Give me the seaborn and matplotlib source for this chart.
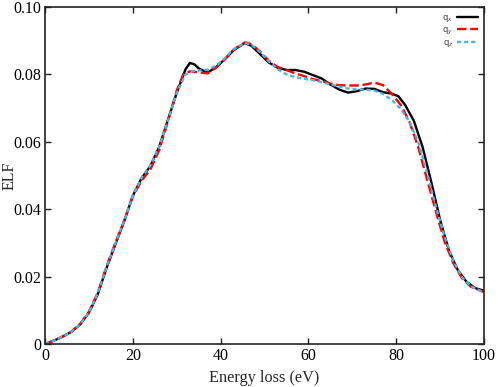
import pandas as pd
import matplotlib.pyplot as plt
import matplotlib.ticker as mticker
import seaborn as sns

# Energy loss function, one list per polarisation
QX_E = [0, 2, 4, 6, 8, 10, 12, 14, 16, 18, 20, 22, 24, 26, 28, 30, 32, 33, 34, 35,
        37, 39, 41, 43, 45.5, 47, 49, 51, 53, 55, 57, 59, 61, 63, 65, 67, 69, 71, 73,
        75, 77, 79, 80.5, 82, 84, 86, 88, 90, 92, 94, 96, 98, 100]
QX_ELF = [0, 0.0010, 0.0022, 0.0036, 0.0058, 0.0093, 0.0147, 0.0225, 0.0295, 0.0363,
          0.0440, 0.0492, 0.0528, 0.0585, 0.0665, 0.0745, 0.0815, 0.0834, 0.0830, 0.0818,
          0.0805, 0.0822, 0.0845, 0.0872, 0.0893, 0.0885, 0.0860, 0.0835, 0.0820, 0.0813,
          0.0813, 0.0808, 0.0798, 0.0788, 0.0770, 0.0755, 0.0746, 0.0750, 0.0758, 0.0757,
          0.0747, 0.0743, 0.0735, 0.0710, 0.0663, 0.0585, 0.0480, 0.0368, 0.0278, 0.0220,
          0.0185, 0.0166, 0.0158]

QY_E = [0, 2, 4, 6, 8, 10, 12, 14, 16, 18, 20, 22, 24, 26, 28, 30, 31.5, 33, 35, 37,
        39, 41, 43, 45.5, 47, 49, 51, 53, 55, 57, 59, 61, 63, 65, 67, 69, 71, 73, 75,
        77, 79, 81, 83, 85, 87, 89, 91, 93, 95, 97, 100]
QY_ELF = [0, 0.0010, 0.0022, 0.0037, 0.0060, 0.0096, 0.0152, 0.0230, 0.0300, 0.0365,
          0.0438, 0.0485, 0.0518, 0.0575, 0.0660, 0.0752, 0.0800, 0.0809, 0.0806, 0.0803,
          0.0820, 0.0846, 0.0874, 0.0895, 0.0890, 0.0868, 0.0840, 0.0822, 0.0813, 0.0803,
          0.0795, 0.0786, 0.0780, 0.0773, 0.0768, 0.0767, 0.0767, 0.0770, 0.0776, 0.0768,
          0.0742, 0.0710, 0.0660, 0.0585, 0.0490, 0.0395, 0.0305, 0.0240, 0.0195, 0.0170,
          0.0154]

QZ_E = [0, 2, 4, 6, 8, 10, 12, 14, 16, 18, 20, 22, 24, 26, 28, 30, 32, 34, 36, 37,
        39, 41, 43, 45.5, 47, 49, 51, 53, 55, 57, 59, 61, 63, 65, 67, 69, 71, 73, 75,
        77, 79, 81, 83, 85, 87, 89, 91, 93, 95, 97, 100]
QZ_ELF = [0, 0.0010, 0.0022, 0.0036, 0.0059, 0.0094, 0.0150, 0.0228, 0.0298, 0.0364,
          0.0440, 0.0494, 0.0530, 0.0585, 0.0662, 0.0745, 0.0800, 0.0811, 0.0812, 0.0814,
          0.0826, 0.0848, 0.0875, 0.0893, 0.0888, 0.0866, 0.0838, 0.0815, 0.0800, 0.0792,
          0.0787, 0.0783, 0.0777, 0.0770, 0.0764, 0.0758, 0.0755, 0.0755, 0.0752, 0.0742,
          0.0724, 0.0698, 0.0660, 0.0600, 0.0510, 0.0410, 0.0320, 0.0248, 0.0198, 0.0172,
          0.0152]

LABELS = ["q$_x$", "q$_y$", "q$_z$"]
PALETTE = {LABELS[0]: "#000000", LABELS[1]: "#FF0000", LABELS[2]: "#4DB3E6"}
DASHES = {LABELS[0]: "", LABELS[1]: (4, 1.6), LABELS[2]: (1.8, 1.2)}

sns.set_theme(style="ticks")
plt.rcParams.update({
    "font.family": ["Liberation Serif", "DejaVu Serif"],
    "mathtext.fontset": "dejavusans",
    "axes.linewidth": 1.2,
    "axes.edgecolor": "#222222",
    "xtick.direction": "in",
    "ytick.direction": "in",
    "xtick.top": True,
    "ytick.right": True,
    "xtick.major.size": 4,
    "ytick.major.size": 4,
})

frames = []
for lab, e, v in zip(LABELS, [QX_E, QY_E, QZ_E], [QX_ELF, QY_ELF, QZ_ELF]):
    frames.append(pd.DataFrame({"E": e, "ELF": v, "dir": lab}))
df = pd.concat(frames, ignore_index=True)

fig = plt.figure(figsize=(4.98, 3.87), dpi=100)
ax = fig.add_axes([0.0904, 0.111, 0.8815, 0.871])
sns.lineplot(data=df, x="E", y="ELF", hue="dir", style="dir",
             palette=PALETTE, dashes=DASHES, linewidth=1.7,
             sort=False, estimator=None, ax=ax)

ax.set_xlim(0, 100)
ax.set_ylim(0, 0.10)
ax.set_xticks([0, 20, 40, 60, 80, 100])
ax.set_yticks([0, 0.02, 0.04, 0.06, 0.08, 0.10])
ax.yaxis.set_major_formatter(mticker.FuncFormatter(lambda y, _: "0" if y == 0 else f"{y:.2f}"))
ax.tick_params(labelsize=11.5, width=1.0, pad=2.5, colors="#222222", labelcolor="black")
ax.set_xlabel("Energy loss (eV)", fontsize=11.7, labelpad=5)
ax.set_ylabel("ELF", fontsize=11.5)
ax.yaxis.set_label_coords(-0.062, 0.5)

handles, labels = ax.get_legend_handles_labels()
leg = ax.legend(handles, labels, loc="upper right", frameon=False,
                markerfirst=False, handlelength=2.6, handletextpad=0.4,
                labelspacing=0.15, borderaxespad=0.3,
                prop={"family": "DejaVu Sans", "size": 6})
for t in leg.get_texts():
    t.set_color("#444444")

fig.savefig("out.png", dpi=100)
